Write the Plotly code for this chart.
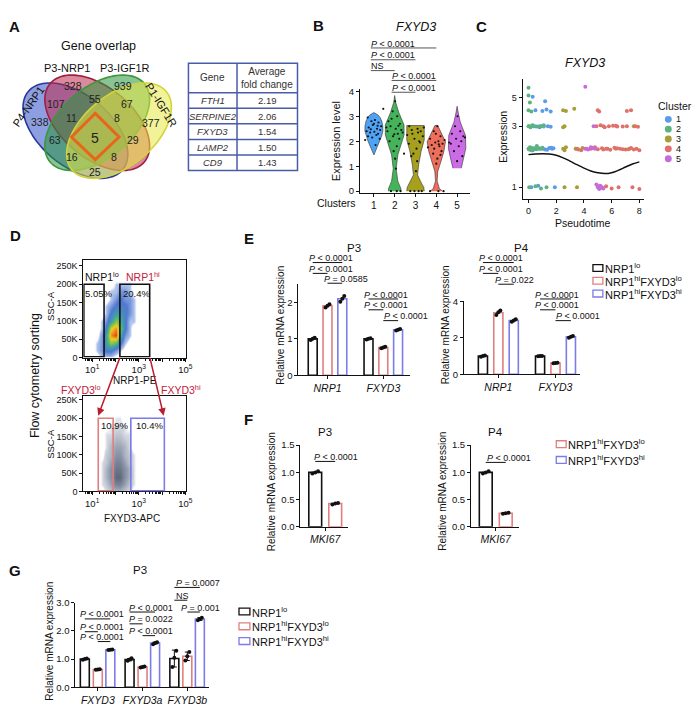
import numpy as np
import plotly.graph_objects as go

W, H = 700, 705
FONT = "Liberation Sans, Arial, Helvetica, sans-serif"
RED_TXT = "#C4213C"
BAR_COLORS = ["#111111", "#E07F7F", "#7B7BEA"]

# ======================= DATA =======================
# Panel A: Venn counts (regions: A=P4-NRP1, B=P3-NRP1, C=P3-IGF1R, D=P1-IGF1R)
venn_names = ["P4-NRP1", "P3-NRP1", "P3-IGF1R", "P1-IGF1R"]
venn_regions = ["A", "B", "C", "D", "AB", "BC", "CD", "AC", "BD", "AD", "ABC", "BCD", "ACD", "ABD", "ABCD"]
venn_counts = [338, 328, 939, 377, 107, 55, 67, 63, 29, 25, 11, 8, 16, 8, 5]
table_header = ["Gene", "Average<br>fold change"]
table_genes = ["FTH1", "SERPINE2", "FXYD3", "LAMP2", "CD9"]
table_fold = ["2.19", "2.06", "1.54", "1.50", "1.43"]

# Panel B: violin outlines (expression level, half width) per cluster
clusters = [1, 2, 3, 4, 5]
vio_lvl_1 = [1.45, 1.6, 1.8, 2.0, 2.2, 2.4, 2.6, 2.8, 2.95, 3.05, 3.15]
vio_hw_1 = [0.0, 0.08, 0.18, 0.28, 0.37, 0.43, 0.43, 0.38, 0.30, 0.20, 0.0]
vio_lvl_2 = [0.0, 0.1, 0.4, 0.9, 1.45, 1.85, 2.25, 2.65, 3.15, 3.55, 3.83]
vio_hw_2 = [0.30, 0.30, 0.15, 0.07, 0.15, 0.30, 0.45, 0.45, 0.20, 0.05, 0.0]
vio_lvl_3 = [0.0, 0.15, 0.35, 0.65, 1.05, 1.6, 2.05, 2.4, 2.63]
vio_hw_3 = [0.42, 0.40, 0.27, 0.10, 0.15, 0.27, 0.42, 0.42, 0.42]
vio_lvl_4 = [0.0, 0.1, 0.4, 0.79, 1.18, 1.58, 1.98, 2.37, 2.63]
vio_hw_4 = [0.30, 0.15, 0.04, 0.07, 0.22, 0.36, 0.44, 0.22, 0.07]
vio_lvl_5 = [0.92, 1.0, 1.33, 1.72, 2.24, 2.77, 3.16, 3.4]
vio_hw_5 = [0.20, 0.22, 0.32, 0.42, 0.40, 0.15, 0.05, 0.0]
# jittered cells (offset from cluster centre, expression)
pts_dx_1 = [-0.30, -0.12, 0.05, 0.22, 0.35, -0.25, -0.05, 0.15, 0.30, -0.35, -0.18, 0.02, 0.20, -0.28, -0.08, 0.12, 0.28, 0.45, -0.42, 0.08, -0.15, 0.18, 0.00]
pts_y_1 = [2.95, 2.80, 2.85, 2.75, 2.60, 2.55, 2.65, 2.50, 2.45, 2.40, 2.35, 2.38, 2.30, 2.20, 2.15, 2.25, 2.10, 3.30, 2.05, 1.85, 2.48, 2.62, 2.70]
pts_dx_2 = [0.02, -0.10, 0.12, -0.30, 0.25, -0.20, 0.05, 0.32, -0.35, 0.15, -0.08, 0.22, -0.25, 0.10, -0.05, 0.02, 0.06, -0.18, 0.10, 0.28, -0.40, 0.38, -0.15, 0.45, -0.02, 0.18]
pts_y_2 = [3.60, 3.20, 3.00, 2.80, 2.70, 2.60, 2.50, 2.45, 2.40, 2.30, 2.20, 2.10, 2.00, 1.80, 1.60, 1.30, 0.90, 0.00, 0.00, 0.00, 2.55, 2.35, 2.90, 1.50, 2.28, 2.62]
pts_dx_3 = [-0.30, 0.10, 0.25, -0.15, 0.35, -0.05, 0.18, -0.32, 0.05, -0.10, 0.08, 0.02, -0.25, 0.15, 0.30, -0.05, 0.40, -0.40, 0.22, -0.20, 0.12, -0.18]
pts_y_3 = [2.60, 2.50, 2.40, 2.30, 2.20, 2.10, 2.00, 1.90, 1.70, 1.50, 1.20, 0.80, 0.00, 0.00, 0.00, 0.00, 2.55, 2.25, 1.95, 1.40, 2.35, 2.45]
pts_dx_4 = [0.05, -0.12, 0.20, -0.30, 0.10, -0.05, 0.30, -0.22, 0.15, -0.10, 0.25, -0.15, 0.05, 0.00, -0.30, 0.10, 0.35, 0.40, -0.40, 0.20, -0.02, 0.12]
pts_y_4 = [2.60, 2.40, 2.20, 2.10, 2.00, 1.95, 1.90, 1.85, 1.80, 1.70, 1.60, 1.50, 1.30, 1.10, 0.00, 0.00, 0.00, 2.05, 1.75, 1.45, 2.30, 1.88]
pts_dx_5 = [0.02, -0.10, 0.15, -0.25, 0.30, -0.05, 0.20, -0.30, 0.08, -0.15, 0.25, 0.00, 0.38, -0.38]
pts_y_5 = [3.00, 2.60, 2.40, 2.30, 2.20, 2.10, 2.00, 1.90, 1.80, 1.60, 1.40, 1.20, 2.15, 1.95]
sig_b = [("<i>P</i> < 0.0001", 1, 4), ("<i>P</i> < 0.0001", 1, 3), ("NS", 1, 2),
         ("<i>P</i> < 0.0001", 2, 4), ("<i>P</i> < 0.0001", 2, 3)]

# Panel C: pseudotime scatter
c1_t = [0.1, 0.3, 0.6, 0.9, 1.2, 1.5, 1.7, 0.4, 0.8, 1.1, 1.4, 1.6, 0.5, 1.0, 1.3, 1.8, 0.2, 1.9, 0.7, 1.6, 0.3, 1.2,
        0.15, 0.45, 0.75, 1.05, 1.35, 1.65, 0.25, 0.55, 0.85]
c1_e = [2.0, 1.95, 2.05, 2.0, 1.97, 2.03, 2.0, 3.0, 2.95, 3.05, 3.0, 2.97, 4.0, 3.95, 4.05, 2.02, 1.0, 1.0, 1.03, 3.9, 5.1, 4.7,
        2.0, 1.98, 2.02, 2.0, 1.96, 2.04, 3.02, 2.98, 3.0]
c2_t = [0.0, 0.1, 0.2, 0.4, 0.6, 0.8, 1.0, 0.05, 0.15, 0.3, 0.9, 1.1, 0.0, 0.1, 0.0, 0.0, 0.05, 0.5, 0.9, 1.3, 0.2, 0.6,
        0.05, 0.25, 0.35, 0.7, 0.0, 0.02]
c2_e = [2.0, 2.05, 1.95, 2.02, 1.98, 2.0, 2.04, 3.0, 2.95, 3.05, 3.0, 2.98, 4.0, 4.6, 5.2, 6.0, 1.0, 1.02, 0.98, 1.0, 3.9, 2.1,
        1.97, 2.03, 3.0, 2.98, 3.0, 2.0]
c3_t = [2.5, 2.6, 2.7, 3.4, 3.6, 3.9, 2.6, 2.5, 2.7, 3.3, 2.6, 6.3, 7.2, 2.5, 3.5, 7.6]
c3_e = [2.0, 1.95, 2.05, 2.0, 1.97, 2.03, 3.0, 4.0, 3.95, 4.1, 1.0, 2.0, 1.98, 2.95, 1.0, 3.0]
c4_t = [3.5, 3.8, 4.5, 4.8, 5.0, 5.3, 5.6, 5.9, 6.2, 6.6, 7.0, 7.4, 7.8, 8.0, 4.9, 5.2, 5.5, 5.8, 6.1, 6.4,
        7.7, 7.9, 5.2, 5.6, 6.0, 6.5, 7.5, 8.0, 5.0, 5.1, 7.1, 7.4,
        4.2, 4.6, 5.4, 5.7, 6.4, 6.8, 7.3, 7.6, 5.4, 6.3, 6.8, 7.1]
c4_e = [2.0, 1.95, 2.0, 2.05, 1.98, 2.02, 2.0, 1.96, 2.04, 2.0, 1.97, 2.03, 2.0, 1.95, 3.0, 3.05, 2.95, 3.0, 3.02, 2.98,
        3.0, 2.97, 1.0, 1.02, 0.98, 1.0, 1.0, 0.97, 4.0, 3.9, 3.95, 4.0,
        2.0, 2.03, 1.97, 2.0, 2.02, 1.98, 2.0, 1.97, 3.0, 3.02, 2.98, 3.0]
c5_t = [4.1, 4.3, 4.6, 4.8, 5.0, 5.2, 5.4, 4.9, 5.1, 5.3, 4.7, 4.1, 4.5, 5.15, 5.25]
c5_e = [2.0, 1.97, 2.03, 2.0, 1.0, 1.02, 0.98, 1.05, 0.97, 1.0, 3.0, 6.1, 2.05, 1.03, 0.99]
trend_t = [0, 0.5, 1, 1.5, 2, 2.5, 3, 3.5, 4, 4.5, 5, 5.5, 6, 6.5, 7, 7.5, 8]
trend_e = [1.80, 1.82, 1.83, 1.82, 1.78, 1.70, 1.60, 1.50, 1.41, 1.34, 1.30, 1.28, 1.30, 1.36, 1.44, 1.52, 1.58]

# Panel D: flow cytometry density grids (log10 fluorescence x SSC-A)
flow_x = [1.0, 1.2, 1.4, 1.6, 1.8, 2.0, 2.2, 2.4, 2.6, 2.8, 3.0, 3.2]
flow_y = [0, 20000, 40000, 60000, 80000, 100000, 120000, 140000, 160000, 180000, 200000, 220000]
flow_top = [
    [0, 0, 1, 1, 1, 0, 0, 0, 0, 0, 0, 0],
    [0, 1, 2, 3, 3, 2, 1, 0, 0, 0, 0, 0],
    [0, 1, 2, 4, 6, 5, 3, 1, 0, 0, 0, 0],
    [0, 0, 2, 4, 8, 9, 5, 2, 1, 0, 0, 0],
    [0, 0, 1, 3, 7, 8, 6, 3, 1, 0, 0, 0],
    [0, 0, 1, 2, 4, 6, 5, 3, 1, 1, 0, 0],
    [0, 0, 0, 1, 3, 4, 4, 3, 2, 1, 0, 0],
    [0, 0, 0, 1, 2, 3, 3, 3, 2, 1, 0, 0],
    [0, 0, 0, 0, 1, 2, 3, 2, 2, 1, 0, 0],
    [0, 0, 0, 0, 1, 1, 2, 2, 1, 0, 0, 0],
    [0, 0, 0, 0, 0, 1, 1, 1, 1, 0, 0, 0],
    [0, 0, 0, 0, 0, 0, 0, 0, 0, 0, 0, 0]]
flow_bottom = [
    [0, 0, 0, 1, 2, 3, 3, 2, 1, 0, 0, 0],
    [0, 0, 1, 2, 4, 6, 6, 4, 2, 1, 0, 0],
    [0, 0, 1, 3, 5, 8, 8, 5, 3, 1, 0, 0],
    [0, 0, 1, 3, 5, 7, 7, 5, 3, 1, 0, 0],
    [0, 0, 1, 2, 4, 6, 6, 4, 2, 1, 0, 0],
    [0, 0, 0, 2, 3, 5, 5, 3, 2, 1, 0, 0],
    [0, 0, 0, 1, 3, 4, 4, 3, 1, 0, 0, 0],
    [0, 0, 0, 1, 2, 3, 3, 2, 1, 0, 0, 0],
    [0, 0, 0, 1, 1, 2, 2, 1, 1, 0, 0, 0],
    [0, 0, 0, 0, 1, 1, 1, 1, 0, 0, 0, 0],
    [0, 0, 0, 0, 0, 1, 1, 0, 0, 0, 0, 0],
    [0, 0, 0, 0, 0, 0, 0, 0, 0, 0, 0, 0]]
gate_nrp1_lo = [0.64, 1.51, 2000, 200000]
gate_nrp1_hi = [2.19, 3.47, 2000, 200000]
gate_fxyd3_lo = [1.26, 1.90, 2000, 200000]
gate_fxyd3_hi = [2.66, 4.10, 2000, 200000]
flow_pct = ["5.05%", "20.4%", "10.9%", "10.4%"]

# Panels E-G: qPCR bars  (series order: NRP1lo, NRP1hiFXYD3lo, NRP1hiFXYD3hi)
e_genes = ["NRP1", "FXYD3"]
e3_mean = [[1.00, 1.00], [1.91, 0.76], [2.10, 1.25]]
e3_reps = [[[0.97, 1.00, 1.03], [0.98, 1.00, 1.02]],
           [[1.86, 1.91, 1.95], [0.74, 0.76, 0.78]],
           [[2.02, 2.10, 2.18], [1.23, 1.25, 1.27]]]
e4_mean = [[1.00, 1.00], [3.38, 0.62], [2.95, 2.06]]
e4_reps = [[[0.96, 1.00, 1.03], [0.99, 1.00, 1.01]],
           [[3.25, 3.40, 3.50], [0.60, 0.62, 0.64]],
           [[2.88, 2.95, 3.02], [2.00, 2.06, 2.10]]]
f_genes = ["MKI67"]
f3_mean = [[1.00], [0.43]]
f3_reps = [[[0.98, 1.00, 1.02]], [[0.41, 0.43, 0.44]]]
f4_mean = [[1.00], [0.25]]
f4_reps = [[[0.98, 1.00, 1.02]], [[0.24, 0.25, 0.26]]]
g_genes = ["FXYD3", "FXYD3a", "FXYD3b"]
g_mean = [[1.00, 0.98, 1.02], [0.63, 0.72, 1.10], [1.33, 1.57, 2.42]]
g_sd = [[0.02, 0.04, 0.30], [0.01, 0.02, 0.15], [0.01, 0.03, 0.05]]
g_reps = [[[0.98, 1.00, 1.02], [0.94, 0.99, 1.03], [0.72, 1.05, 1.30]],
          [[0.62, 0.63, 0.64], [0.70, 0.72, 0.74], [0.95, 1.10, 1.25]],
          [[1.32, 1.33, 1.34], [1.53, 1.57, 1.60], [2.38, 2.42, 2.47]]]
legend_names = ["NRP1<sup>lo</sup>", "NRP1<sup>hi</sup>FXYD3<sup>lo</sup>", "NRP1<sup>hi</sup>FXYD3<sup>hi</sup>"]
# significance: (text, group, series_a, series_b)
sig_e3 = [("<i>P</i> < 0.0001", 0, 0, 2), ("<i>P</i> < 0.0001", 0, 0, 1), ("<i>P</i> = 0.0585", 0, 1, 2),
          ("<i>P</i> < 0.0001", 1, 0, 2), ("<i>P</i> < 0.0001", 1, 0, 1), ("<i>P</i> < 0.0001", 1, 1, 2)]
sig_e4 = [("<i>P</i> < 0.0001", 0, 0, 2), ("<i>P</i> < 0.0001", 0, 0, 1), ("<i>P</i> = 0.022", 0, 1, 2),
          ("<i>P</i> < 0.0001", 1, 0, 2), ("<i>P</i> < 0.0001", 1, 0, 1), ("<i>P</i> < 0.0001", 1, 1, 2)]
sig_f3 = [("<i>P</i> < 0.0001", 0, 0, 1)]
sig_f4 = [("<i>P</i> < 0.0001", 0, 0, 1)]
sig_g = [("<i>P</i> < 0.0001", 0, 0, 2), ("<i>P</i> < 0.0001", 0, 0, 1), ("<i>P</i> < 0.0001", 0, 1, 2),
         ("<i>P</i> < 0.0001", 1, 0, 2), ("<i>P</i> = 0.0022", 1, 0, 1), ("<i>P</i> < 0.0001", 1, 1, 2),
         ("<i>P</i> = 0.0007", 2, 0, 2), ("NS", 2, 0, 1), ("<i>P</i> = 0.001", 2, 1, 2)]

# ======================= HELPERS =======================
fig = go.Figure()
ann, shp = [], []


def T(x, y, s, size=10, color="#111", xa="center", ya="middle", angle=0, bold=False):
    if bold:
        s = "<b>" + s + "</b>"
    ann.append(dict(x=x / W, y=1 - y / H, xref="paper", yref="paper", text=s, showarrow=False,
                    font=dict(family=FONT, size=size, color=color), xanchor=xa, yanchor=ya,
                    textangle=angle, borderpad=0))


def Lp(x0, y0, x1, y1, color="#111", width=1):
    shp.append(dict(type="line", xref="paper", yref="paper", x0=x0 / W, x1=x1 / W, y0=1 - y0 / H, y1=1 - y1 / H,
                    line=dict(color=color, width=width)))


def axis(domain, rng, anchor, horiz, **kw):
    if horiz:
        dom = [domain[0] / W, domain[1] / W]
    else:
        dom = [1 - domain[1] / H, 1 - domain[0] / H]
    d = dict(domain=dom, range=rng, anchor=anchor, showgrid=False, zeroline=False, showline=True,
             linecolor="#111", linewidth=1, ticks="outside", ticklen=3, tickwidth=1, tickcolor="#111",
             tickfont=dict(family=FONT, size=9.5, color="#111"), fixedrange=True)
    d.update(kw)
    return d


layout_axes = {}

# ======================= PANEL A =======================
T(7, 13, "A", 15, bold=True)
T(91, 33, "Gene overlap", 12.5)
ell = [  # cx, cy, a, b, angle, fill, line
    (68, 118.5, 62, 36, 40, "rgba(50,80,200,0.55)", "#27389A"),
    (90, 110.5, 62, 36, 40, "rgba(190,40,75,0.55)", "#A11E40"),
    (90, 110.5, 62, 36, -40, "rgba(40,150,60,0.55)", "#3C963C"),
    (112, 118.5, 62, 36, -40, "rgba(232,232,70,0.55)", "#D4D43A"),
]
tt = np.linspace(0, 2 * np.pi, 120)
for cx, cy, a, b, ang, fc, lc in ell:
    r = np.deg2rad(ang)
    xs = cx + a * np.cos(tt) * np.cos(r) - b * np.sin(tt) * np.sin(r)
    ys = cy + a * np.cos(tt) * np.sin(r) + b * np.sin(tt) * np.cos(r)
    path = "M " + " L ".join(f"{x / W:.5f},{1 - y / H:.5f}" for x, y in zip(xs, ys)) + " Z"
    shp.append(dict(type="path", path=path, xref="paper", yref="paper", fillcolor=fc,
                    line=dict(color=lc, width=1.6)))
dia = [(88, 101), (112, 125), (88, 148), (64, 125)]
shp.append(dict(type="path", xref="paper", yref="paper",
                path="M " + " L ".join(f"{x / W:.5f},{1 - y / H:.5f}" for x, y in dia) + " Z",
                line=dict(color="#E8661C", width=3)))
venn_pos = [(32, 110), (66, 73), (116, 73), (144, 111), (48, 91), (88, 86), (120, 91), (47, 128),
            (126, 128), (88, 160), (64, 106), (110, 106), (65, 145), (107, 145), (88, 126)]
for (x, y), c in zip(venn_pos, venn_counts):
    T(x, y, str(c), 14 if c == 5 else 10.5, "#222")
T(60, 55, venn_names[1], 11)
T(118, 55, venn_names[2], 11)
T(20, 94, venn_names[0], 11, angle=-55)
T(155, 92, venn_names[3], 11, angle=58)

# table (drawn from the table arrays)
tx0, tx1, tsplit, ty0, thead, trow = 182, 292, 231, 50, 80, 15.8
TB = "#4A5CA8"
nrows = len(table_genes)
shp.append(dict(type="rect", xref="paper", yref="paper", x0=tx0 / W, x1=tx1 / W,
                y0=1 - (thead + trow * nrows) / H, y1=1 - ty0 / H, line=dict(color=TB, width=1.5)))
Lp(tsplit, ty0, tsplit, thead + trow * nrows, TB, 1.5)
Lp(tx0, thead, tx1, thead, TB, 1.5)
for i in range(1, nrows):
    Lp(tx0, thead + trow * i, tx1, thead + trow * i, TB, 1.5)
T((tx0 + tsplit) / 2, (ty0 + thead) / 2, table_header[0], 10, "#333")
T((tsplit + tx1) / 2, (ty0 + thead) / 2, table_header[1], 10, "#333")
for i, (g, f) in enumerate(zip(table_genes, table_fold)):
    yc = thead + trow * (i + 0.5)
    T((tx0 + tsplit) / 2, yc, "<i>" + g + "</i>", 9.5, "#333")
    T((tsplit + tx1) / 2, yc, f, 9.5, "#333")

# ======================= PANEL B =======================
T(313, 12, "B", 15, bold=True)
T(412, 13, "<i>FXYD3</i>", 12.5)
vcol = ["#4EA3F5", "#45B35A", "#A6A01E", "#EE6E5C", "#CC6BE6"]
vl = [vio_lvl_1, vio_lvl_2, vio_lvl_3, vio_lvl_4, vio_lvl_5]
vh = [vio_hw_1, vio_hw_2, vio_hw_3, vio_hw_4, vio_hw_5]
pdx = [pts_dx_1, pts_dx_2, pts_dx_3, pts_dx_4, pts_dx_5]
pyy = [pts_y_1, pts_y_2, pts_y_3, pts_y_4, pts_y_5]
for k, c in enumerate(clusters):
    xs = [c + w for w in vh[k]] + [c - w for w in vh[k][::-1]]
    ys = vl[k] + vl[k][::-1]
    fig.add_trace(go.Scatter(x=xs, y=ys, fill="toself", fillcolor=vcol[k], mode="lines",
                             line=dict(color="#333", width=0.6), xaxis="x", yaxis="y", hoverinfo="skip"))
for k, c in enumerate(clusters):
    fig.add_trace(go.Scatter(x=[c + d for d in pdx[k]], y=pyy[k], mode="markers",
                             marker=dict(color="#111", size=2.2), xaxis="x", yaxis="y"))
layout_axes["xaxis"] = axis([355, 466], [0.33, 5.62], "y", True, tickvals=clusters,
                            ticktext=[str(c) for c in clusters], tickfont=dict(family=FONT, size=10, color="#111"))
layout_axes["yaxis"] = axis([76, 182], [-0.08, 4.1], "x", False, tickvals=[0, 1, 2, 3, 4])
T(352, 192, "Clusters", 10.5, xa="right")
T(331, 129, "Expression level", 11, angle=-90)
b_text_y = [30, 42, 53, 63, 75]
for (s, c0, c1), ty in zip(sig_b, b_text_y):
    T(365 + 21 * (c0 - 1), ty, s, 9, xa="left")
    shp.append(dict(type="line", xref="x", yref="paper", x0=c0 - 0.15, x1=c1,
                    y0=1 - (ty + 4.5) / H, y1=1 - (ty + 4.5) / H, line=dict(color="#555", width=1)))

# ======================= PANEL C =======================
T(478, 13, "C", 15, bold=True)
T(582, 50, "<i>FXYD3</i>", 12.5)
ccol = ["#5B9BE8", "#5DB37E", "#A79E35", "#E0706A", "#C56CDB"]
for ts, es, col in zip([c1_t, c2_t, c3_t, c4_t, c5_t], [c1_e, c2_e, c3_e, c4_e, c5_e], ccol):
    fig.add_trace(go.Scatter(x=ts, y=es, mode="markers", marker=dict(color=col, size=4),
                             xaxis="x2", yaxis="y2"))
fig.add_trace(go.Scatter(x=trend_t, y=trend_e, mode="lines", line=dict(color="#111", width=1.4, shape="spline"),
                         xaxis="x2", yaxis="y2"))
layout_axes["xaxis2"] = axis([519, 641], [-0.43, 8.3], "y2", True, tickvals=[0, 2, 4, 6, 8],
                             tickfont=dict(family=FONT, size=9, color="#111"))
layout_axes["yaxis2"] = axis([66, 188], [-0.092, 0.846], "x2", False, type="log", tickvals=[1, 3, 5],
                             ticktext=["1", "3", "5"], tickfont=dict(family=FONT, size=9, color="#111"))
T(580, 212, "Pseudotime", 10.5)
T(499, 125, "Expression", 10.5, angle=-90)
T(655, 93, "Cluster", 10.5, xa="left")
for k, c in enumerate(clusters):
    y = 107 + 10 * k
    shp.append(dict(type="circle", xref="paper", yref="paper", x0=(666 - 3.5) / W, x1=(666 + 3.5) / W,
                    y0=1 - (y + 3.5) / H, y1=1 - (y - 3.5) / H, fillcolor=ccol[k], line=dict(width=0)))
    T(673, y, str(c), 9, xa="left")

# ======================= PANEL D =======================
T(8, 225, "D", 15, bold=True)
T(28, 367, "Flow cytometry sorting", 12.5, angle=-90)
minor_vals = [d + np.log10(m) for d in range(0, 6) for m in range(2, 10) if 0.62 < d + np.log10(m) < 5.05]
flow_yticks = dict(tickvals=[0, 50000, 100000, 150000, 200000, 250000],
                   ticktext=["0", "50K", "100K", "150K", "200K", "250K"], tickfont=dict(family=FONT, size=9, color="#111"))
flow_xticks = dict(tickvals=[1, 2, 3, 4, 5], ticktext=["10<sup>1</sup>", "", "10<sup>3</sup>", "", "10<sup>5</sup>"],
                   tickfont=dict(family=FONT, size=9.5, color="#111"),
                   minor=dict(tickvals=minor_vals, ticklen=2, ticks="outside", tickcolor="#111"))
cs_top = [[0, "rgba(255,255,255,0)"], [0.05, "rgba(255,255,255,0)"], [0.1, "#B5C8EE"], [0.3, "#4F78D0"],
          [0.5, "#3FA8A0"], [0.65, "#86C440"], [0.8, "#F0D020"], [1, "#E8401C"]]
cs_bot = [[0, "rgba(255,255,255,0)"], [0.05, "rgba(255,255,255,0)"], [0.12, "#D6DAE2"], [0.5, "#9099AC"],
          [1, "#505A6E"]]
fig.add_trace(go.Heatmap(x=flow_x, y=flow_y, z=flow_top, zmin=0, zmax=9, colorscale=cs_top, zsmooth="best",
                         showscale=False, xaxis="x3", yaxis="y3", hoverinfo="skip"))
fig.add_trace(go.Heatmap(x=flow_x, y=flow_y, z=flow_bottom, zmin=0, zmax=9, colorscale=cs_bot, zsmooth="best",
                         showscale=False, xaxis="x4", yaxis="y4", hoverinfo="skip"))
layout_axes["xaxis3"] = axis([76, 180], [0.62, 5.05], "y3", True, mirror=True, **flow_xticks)
layout_axes["yaxis3"] = axis([250, 349], [0, 266000], "x3", False, mirror=True, **flow_yticks)
layout_axes["xaxis4"] = axis([76, 180], [0.62, 5.05], "y4", True, mirror=True, **flow_xticks)
layout_axes["yaxis4"] = axis([388, 485], [0, 261000], "x4", False, mirror=True, **flow_yticks)
for g, col, ax in [(gate_nrp1_lo, "#111", 3), (gate_nrp1_hi, "#111", 3), (gate_fxyd3_lo, "#E07F7F", 4),
                   (gate_fxyd3_hi, "#7B7BEA", 4)]:
    shp.append(dict(type="rect", xref=f"x{ax}", yref=f"y{ax}", x0=g[0], x1=g[1], y0=g[2], y1=g[3],
                    line=dict(color=col, width=1.6)))
T(43, 297, "SSC-A", 9.5, angle=-90)
T(43, 437, "SSC-A", 9.5, angle=-90)
T(128, 372, "NRP1-PE", 10)
T(125, 512, "FXYD3-APC", 10)
T(77, 267, "NRP1<sup>lo</sup>", 10.5, xa="left")
T(118, 267, "NRP1<sup>hi</sup>", 10.5, RED_TXT, xa="left")
T(77, 284, flow_pct[0], 9.5, xa="left")
T(115, 284, flow_pct[1], 9.5, xa="left")
T(93, 418, flow_pct[2], 9.5, xa="left")
T(128, 418, flow_pct[3], 9.5, xa="left")
T(52, 381, "FXYD3<sup>lo</sup>", 10.5, RED_TXT, xa="left")
T(153, 381, "FXYD3<sup>hi</sup>", 10.5, RED_TXT, xa="left")
for hx, hy, tx, ty in [(91, 408, 113, 349), (157, 408, 143, 349)]:
    ann.append(dict(x=hx / W, y=1 - hy / H, xref="paper", yref="paper", ax=tx - hx, ay=ty - hy, text="",
                    showarrow=True, arrowhead=2, arrowsize=1, arrowwidth=1.5, arrowcolor="#B81E30", standoff=0))

# ======================= PANELS E-G =======================
def bar_panel(k, means, reps, sds, offsets, width, genes):
    xa, ya = f"x{k}", f"y{k}"
    for s in range(len(means)):
        xs = [i + offsets[s] for i in range(len(genes))]
        fig.add_trace(go.Bar(x=xs, y=means[s], width=width, marker=dict(color="white",
                             line=dict(color=BAR_COLORS[s], width=1.6)), xaxis=xa, yaxis=ya,
                             error_y=dict(type="data", array=sds[s] if sds else [0] * len(genes),
                                          visible=bool(sds), color="#111", thickness=1, width=2.5)))
        dx, dy = [], []
        for i in range(len(genes)):
            for j, v in enumerate(reps[s][i]):
                dx.append(i + offsets[s] + (j - 1) * width * 0.22)
                dy.append(v)
        fig.add_trace(go.Scatter(x=dx, y=dy, mode="markers", marker=dict(color="#111", size=4),
                                 xaxis=xa, yaxis=ya))


def sig(k, items, offsets, text_pos):
    for (s, g, a, b), (tx, ty) in zip(items, text_pos):
        T(tx, ty, s, 9, xa="left")
        shp.append(dict(type="line", xref=f"x{k}", yref="paper", x0=g + offsets[a], x1=g + offsets[b],
                        y0=1 - (ty + 4.5) / H, y1=1 - (ty + 4.5) / H, line=dict(color="#111", width=1)))


def italic(lst):
    return ["<i>" + g + "</i>" for g in lst]


# E - P3
T(243, 228, "E", 15, bold=True)
off_e3 = [-0.265, 0.0, 0.265]
bar_panel(5, e3_mean, e3_reps, None, off_e3, 0.16, e_genes)
layout_axes["xaxis5"] = axis([293, 405], [-0.52, 1.47], "y5", True, tickvals=[0, 1], ticktext=italic(e_genes),
                             tickfont=dict(family=FONT, size=10.5, color="#111"))
layout_axes["yaxis5"] = axis([274.5, 367], [0, 2.5], "x5", False, tickvals=[0, 1, 2])
T(349, 238, "P3", 11.5)
T(274, 316, "Relative mRNA expression", 10, angle=-90)
sig(5, sig_e3, off_e3, [(303, 248), (303, 259), (318, 269), (358, 285), (358, 296), (378, 307)])
# E - P4
off_e4 = [-0.27, 0.0, 0.27]
bar_panel(6, e4_mean, e4_reps, None, off_e4, 0.16, e_genes)
layout_axes["xaxis6"] = axis([460, 577], [-0.6, 1.43], "y6", True, tickvals=[0, 1], ticktext=italic(e_genes),
                             tickfont=dict(family=FONT, size=10.5, color="#111"))
layout_axes["yaxis6"] = axis([292, 366], [0, 4], "x6", False, tickvals=[0, 2, 4])
T(518, 238, "P4", 11.5)
T(441, 316, "Relative mRNA expression", 10, angle=-90)
sig(6, sig_e4, off_e4, [(474, 248), (474, 259), (490, 270), (531, 285), (531, 296), (552, 307)])
# legend E
for s, nm in enumerate(legend_names):
    y = 258 + 13 * s
    shp.append(dict(type="rect", xref="paper", yref="paper", x0=590 / W, x1=600 / W, y0=1 - (y + 3.5) / H,
                    y1=1 - (y - 3.5) / H, line=dict(color=BAR_COLORS[s], width=1.3)))
    T(601, y, nm, 11, xa="left")

# F - P3
T(243, 412, "F", 15, bold=True)
off_f = [-0.21, 0.21]
bar_panel(7, f3_mean, f3_reps, None, off_f, 0.27, f_genes)
layout_axes["xaxis7"] = axis([295, 343], [-0.52, 0.48], "y7", True, tickvals=[0], ticktext=italic(f_genes),
                             tickfont=dict(family=FONT, size=10.5, color="#111"))
layout_axes["yaxis7"] = axis([438, 521], [0, 1.5], "x7", False, tickvals=[0, 0.5, 1.0, 1.5],
                             ticktext=["0.0", "0.5", "1.0", "1.5"])
T(320, 425, "P3", 11.5)
T(266, 485, "Relative mRNA expression", 10, angle=-90)
sig(7, sig_f3, off_f, [(308, 450)])
# F - P4
bar_panel(8, f4_mean, f4_reps, None, off_f, 0.27, f_genes)
layout_axes["xaxis8"] = axis([467, 515], [-0.52, 0.48], "y8", True, tickvals=[0], ticktext=italic(f_genes),
                             tickfont=dict(family=FONT, size=10.5, color="#111"))
layout_axes["yaxis8"] = axis([438, 521], [0, 1.5], "x8", False, tickvals=[0, 0.5, 1.0, 1.5],
                             ticktext=["0.0", "0.5", "1.0", "1.5"])
T(492, 425, "P4", 11.5)
T(438, 485, "Relative mRNA expression", 10, angle=-90)
sig(8, sig_f4, off_f, [(482, 451)])
for s, nm in enumerate(legend_names[1:]):
    y = 437 + 16 * s
    shp.append(dict(type="rect", xref="paper", yref="paper", x0=553 / W, x1=563 / W, y0=1 - (y + 3.5) / H,
                    y1=1 - (y - 3.5) / H, line=dict(color=BAR_COLORS[s + 1], width=1.3)))
    T(564, y, nm, 11, xa="left")

# G
T(7, 565, "G", 15, bold=True)
off_g = [-0.29, 0.0, 0.28]
bar_panel(9, g_mean, g_reps, g_sd, off_g, 0.2, g_genes)
layout_axes["xaxis9"] = axis([68, 203], [-0.5, 2.49], "y9", True, tickvals=[0, 1, 2], ticktext=italic(g_genes),
                             tickfont=dict(family=FONT, size=10.5, color="#111"))
layout_axes["yaxis9"] = axis([598, 684], [0, 3], "x9", False, tickvals=[0, 1, 2, 3],
                             ticktext=["0.0", "1.0", "2.0", "3.0"])
T(133, 565, "P3", 11.5)
T(41, 637, "Relative mRNA expression", 10, angle=-90)
sig(9, sig_g, off_g, [(72, 610), (72, 623), (72, 633), (121, 603), (121, 615), (121, 627),
                      (168, 578), (168, 591), (173, 603)])
for s, nm in enumerate(legend_names):
    y = 607 + 15 * s
    shp.append(dict(type="rect", xref="paper", yref="paper", x0=233 / W, x1=244 / W, y0=1 - (y + 3.5) / H,
                    y1=1 - (y - 3.5) / H, line=dict(color=BAR_COLORS[s], width=1.3)))
    T(245, y, nm, 11, xa="left")

fig.update_layout(width=W, height=H, margin=dict(l=0, r=0, t=0, b=0), plot_bgcolor="white",
                  paper_bgcolor="white", showlegend=False, barmode="overlay", annotations=ann, shapes=shp,
                  font=dict(family=FONT, color="#111"), **layout_axes)
fig.write_html("out.html")
